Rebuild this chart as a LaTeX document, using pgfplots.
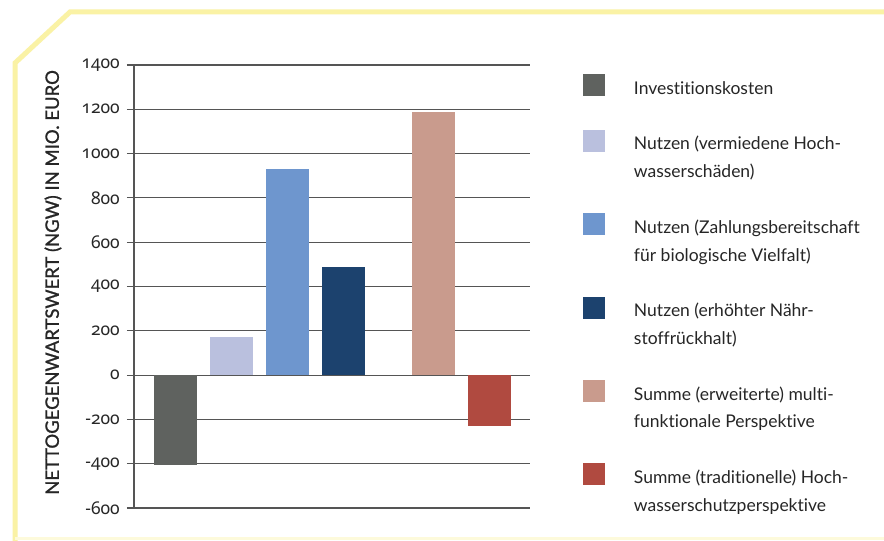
\documentclass[border=0pt]{standalone}
\usepackage{fontspec}
\setmainfont{Lato}[Ligatures=NoCommon]
\newfontfamily\tickfont{Noto Sans}[Numbers=OldStyle]
\usepackage{pgfplots}
\pgfplotsset{compat=1.18}
\definecolor{cInv}{RGB}{95,98,95}
\definecolor{cHoch}{RGB}{186,192,222}
\definecolor{cBio}{RGB}{110,150,206}
\definecolor{cNaehr}{RGB}{28,66,110}
\definecolor{cMulti}{RGB}{201,155,141}
\definecolor{cTrad}{RGB}{176,74,64}
\definecolor{gridc}{RGB}{85,85,85}
\definecolor{frameY}{RGB}{250,242,165}
\begin{document}
\begin{tikzpicture}
\useasboundingbox (0,0) rectangle (884pt,541pt);
\fill[white] (0,0) rectangle (884pt,541pt);
\draw[frameY, line width=5pt, line join=miter] (15pt,-5pt) -- (15pt,478pt) -- (70pt,529pt) -- (890pt,529pt);
\draw[frameY!40, line width=3pt] (15pt,2pt) -- (884pt,2pt);
\begin{axis}[
  at={(134pt,33pt)}, anchor=south west,
  scale only axis, width=396pt, height=443pt,
  xmin=-0.74, xmax=6.34, ymin=-600, ymax=1400,
  ytick={-600,-400,...,1400},
  yticklabels={{\tickfont -600},{\tickfont -400},{\tickfont -200},{\tickfont 0},{\tickfont 200},{\tickfont 400},{\tickfont 600},{\tickfont 800},{\tickfont 1000},{\tickfont 1200},{\tickfont 1400}},
  xtick=\empty,
  axis lines=left,
  axis line style={-, draw=gridc, line width=1.6pt},
  ymajorgrids, grid style={draw=gridc, line width=1.1pt},
  tick align=outside, major tick length=7pt,
  ytick style={draw=gridc, line width=1.1pt},
  yticklabel style={font=\fontsize{17.5}{20}\selectfont, color=black!85, anchor=east, inner sep=0pt, xshift=-7pt},
  ylabel={\addfontfeatures{FakeBold=1.1}NETTOGEGENWARTSWERT (NGW) IN MIO.\ EURO},
  ylabel style={at={(axis description cs:-0.2045,0.509)}, anchor=center, font=\fontsize{18.5}{20}\selectfont, color=black!85},
  ybar, bar width=43pt, bar shift=0pt,
  legend image code/.code={\fill[#1,/tikz/.cd,draw=none] (0pt,-11pt) rectangle (22pt,11pt);},
  legend cell align=left,
  legend style={at={(axis description cs:1.1338,0.9813)}, anchor=north west, draw=none, fill=none, inner sep=0pt, outer sep=0pt,
    row sep=3.8pt, column sep=29pt,
    nodes={inner sep=0pt, outer sep=0pt, text height=21pt, text depth=3pt, font=\fontsize{17.5}{20}\selectfont, color=black!85}},
]
\addplot[fill=cInv, draw=none] coordinates {(0,-405)};
\addlegendentry{Investitionskosten}
\addlegendimage{empty legend}\addlegendentry{}
\addplot[fill=cHoch, draw=none] coordinates {(1,171)};
\addlegendentry{Nutzen (vermiedene Hoch-}
\addlegendimage{empty legend}\addlegendentry{wasserschäden)}
\addlegendimage{empty legend}\addlegendentry{}
\addplot[fill=cBio, draw=none] coordinates {(2,930)};
\addlegendentry{Nutzen (Zahlungsbereitschaft}
\addlegendimage{empty legend}\addlegendentry{für biologische Vielfalt)}
\addlegendimage{empty legend}\addlegendentry{}
\addplot[fill=cNaehr, draw=none] coordinates {(3,488)};
\addlegendentry{Nutzen (erhöhter Nähr-}
\addlegendimage{empty legend}\addlegendentry{stoffrückhalt)}
\addlegendimage{empty legend}\addlegendentry{}
\addplot[fill=cMulti, draw=none] coordinates {(4.615,1187)};
\addlegendentry{Summe (erweiterte) multi-}
\addlegendimage{empty legend}\addlegendentry{funktionale Perspektive}
\addlegendimage{empty legend}\addlegendentry{}
\addplot[fill=cTrad, draw=none] coordinates {(5.61,-230)};
\addlegendentry{Summe (traditionelle) Hoch-}
\addlegendimage{empty legend}\addlegendentry{wasserschutzperspektive}
\end{axis}
\end{tikzpicture}
\end{document}
